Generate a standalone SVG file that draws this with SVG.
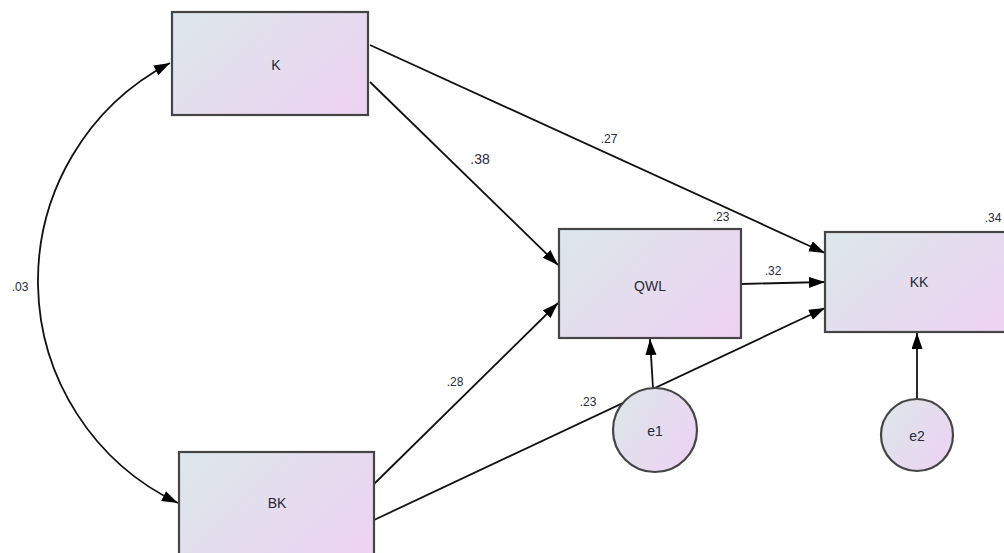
<svg xmlns="http://www.w3.org/2000/svg" width="1004" height="553" viewBox="0 0 1004 553">
<style>
.node{stroke:#454545;stroke-width:2.2;fill:url(#g)}
.lbl{font-family:"Liberation Sans",Arial,sans-serif;font-size:14px;fill:#2a2a35;text-anchor:middle;dominant-baseline:central}
.num{font-family:"Liberation Sans",Arial,sans-serif;font-size:12px;fill:#2a2a40;text-anchor:middle;dominant-baseline:central}
.edge{stroke:#111;stroke-width:1.8;fill:none;marker-end:url(#ah)}
</style>
<defs>
<linearGradient id="g" x1="0" y1="0.2" x2="1" y2="0.8">
<stop offset="0" stop-color="#dde6ea"/>
<stop offset="1" stop-color="#ecd3f2"/>
</linearGradient>
<marker id="ah" markerUnits="userSpaceOnUse" markerWidth="17" markerHeight="12" refX="16" refY="5.5" orient="auto-start-reverse">
<path d="M0,0 L16,5.5 L0,11 z" fill="#000"/>
</marker>
</defs>
<rect width="1004" height="553" fill="#fff"/>
<g id="connectors">
<path class="edge" d="M170,63 A246,246 0 0 0 178,503" marker-start="url(#ah)"/>
<line class="edge" x1="370" y1="82" x2="558" y2="265"/>
<line class="edge" x1="370" y1="45" x2="825" y2="253"/>
<line class="edge" x1="741" y1="284" x2="825" y2="282"/>
<line class="edge" x1="374" y1="484" x2="558" y2="303"/>
<line class="edge" x1="374" y1="520" x2="825" y2="308"/>
<line class="edge" x1="653" y1="388" x2="650" y2="339"/>
<line class="edge" x1="917" y1="403" x2="917" y2="333"/>
<text class="num" x="20" y="287">.03</text>
<text class="num" x="480" y="159" style="font-size:14px">.38</text>
<text class="num" x="609" y="139">.27</text>
<text class="num" x="773" y="271">.32</text>
<text class="num" x="455" y="382">.28</text>
<text class="num" x="588" y="402">.23</text>
</g>
<g id="K"><rect class="node" x="172" y="12" width="196" height="103"/><text class="lbl" x="276" y="65">K</text></g>
<g id="QWL"><rect class="node" x="559" y="229" width="182" height="109"/><text class="lbl" x="650" y="286">QWL</text><text class="num" x="721" y="217">.23</text></g>
<g id="KK"><rect class="node" x="825" y="232" width="190" height="100"/><text class="lbl" x="919" y="282">KK</text><text class="num" x="993" y="218">.34</text></g>
<g id="BK"><rect class="node" x="179" y="452" width="195" height="110"/><text class="lbl" x="277" y="503">BK</text></g>
<g id="e1"><circle class="node" cx="655" cy="430" r="42"/><text class="lbl" x="655" y="431">e1</text></g>
<g id="e2"><circle class="node" cx="917" cy="435" r="36"/><text class="lbl" x="917" y="436">e2</text></g>
</svg>
